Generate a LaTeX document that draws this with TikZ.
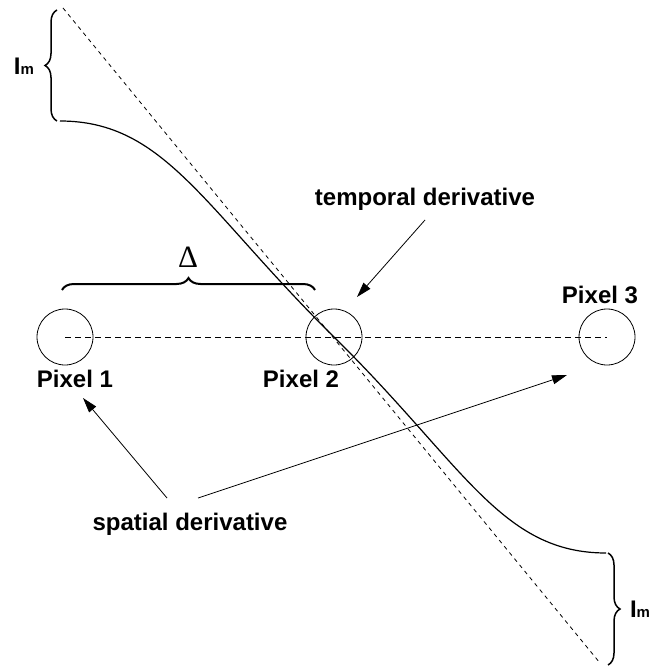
\documentclass[tikz,border=0pt]{standalone}
\usepackage{fontspec}
\setmainfont{Liberation Sans}
\newfontfamily\timesfont{Liberation Serif}
\usetikzlibrary{arrows.meta,decorations.pathreplacing}

\begin{document}
\begin{tikzpicture}[x=1pt,y=-1pt,
  pixel/.style={draw, circle, minimum size=56pt, inner sep=0pt, line width=0.8pt},
  lbl/.style={font=\fontsize{24}{28}\selectfont\bfseries, anchor=base, inner sep=0pt},
  brc/.style={decorate, decoration={brace, amplitude=12pt}, line width=1.5pt},
  arr/.style={-{Triangle[length=15pt,width=9pt]}, line width=0.8pt}]
\useasboundingbox (0,0) rectangle (656,668);
% tangent line and intensity profile
\coordinate (top) at (63,8);
\coordinate (bot) at (600,663);
\draw[dash pattern=on 4pt off 4pt, line width=0.8pt] (top) -- (bot);
\node[pixel] (p1) at (65,337) {};
\node[pixel] (p2) at (334,337) {};
\node[pixel] (p3) at (607,337) {};
\draw[dash pattern=on 6pt off 4pt, line width=0.8pt] (p1.center) -- (p3.center);
\coordinate (c0) at (60,121);
\coordinate (c1) at (606,553);
\draw[line width=1.2pt] (c0) .. controls (165,121) and (204,209) .. (p2.center) .. controls (464,465) and (501,553) .. (c1);
% braces
\draw[brc] (57,121) -- (57,10);
\draw[brc] (608,553) -- (608,665);
\draw[brc, line width=2pt] (62,290) -- (315,290);
\node[lbl, font=\fontsize{31}{34}\selectfont\timesfont] (delta) at (188,267) {Δ};
\node[lbl] (im1) at (24,75) {I{\fontsize{15}{18}\selectfont m}};
\node[lbl] (im2) at (640,617) {I{\fontsize{15}{18}\selectfont m}};
% labels
\node[lbl] (l1) at (75,387) {Pixel 1};
\node[lbl] (l2) at (301,387) {Pixel 2};
\node[lbl] (l3) at (600,303) {Pixel 3};
\node[lbl] (tmp) at (425,205) {temporal derivative};
\node[lbl] (spt) at (190,530) {spatial derivative};
% arrows
\coordinate (ts) at (425,220);
\coordinate (te) at (357,297);
\coordinate (s1) at (167,498);
\coordinate (s2) at (198,498);
\coordinate (e1) at (83,398);
\coordinate (e3) at (567,375);
\draw[arr] (ts) -- (te);
\draw[arr] (s1) -- (e1);
\draw[arr] (s2) -- (e3);
\end{tikzpicture}
\end{document}
